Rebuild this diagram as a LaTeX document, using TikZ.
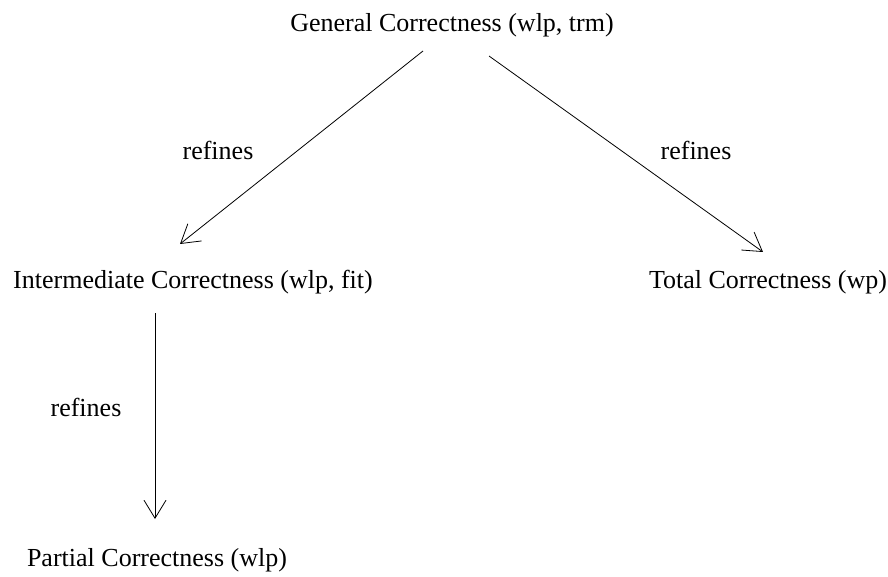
\documentclass[tikz,border=0pt]{standalone}
\usepackage{fontspec}
\setmainfont{Liberation Serif}
\usetikzlibrary{arrows.meta,positioning}

\begin{document}
\begin{tikzpicture}[
    x=1pt, y=-1pt,
    level/.style={inner sep=0pt, anchor=base, font=\fontsize{26}{30}\selectfont},
    label/.style={inner sep=0pt, font=\fontsize{26}{30}\selectfont},
    arrow/.style={-{Straight Barb[length=18pt,width=22pt]}, line width=0.8pt}
]
    \useasboundingbox (0,0) rectangle (888,577);

    \node[level] (general) at (452,32) {General Correctness (wlp, trm)};
    \node[level] (intermediate) at (193,288) {Intermediate Correctness (wlp, fit)};
    \node[level] (total) at (768,288) {Total Correctness (wp)};
    \node[level] (partial) at (157,566) {Partial Correctness (wlp)};

    \node[label] (refinesA) at (218,150) {refines};
    \node[label] (refinesB) at (696,150) {refines};
    \node[label] (refinesC) at (86,407) {refines};

    \draw[arrow] ([shift={(-29,19)}]general.base) -- ([shift={(-13,-44)}]intermediate.base);
    \draw[arrow] ([shift={(37,24)}]general.base) -- ([shift={(-5,-36)}]total.base);
    \draw[arrow] ([shift={(-38,25)}]intermediate.base) -- ([shift={(-2,-47)}]partial.base);
\end{tikzpicture}
\end{document}
